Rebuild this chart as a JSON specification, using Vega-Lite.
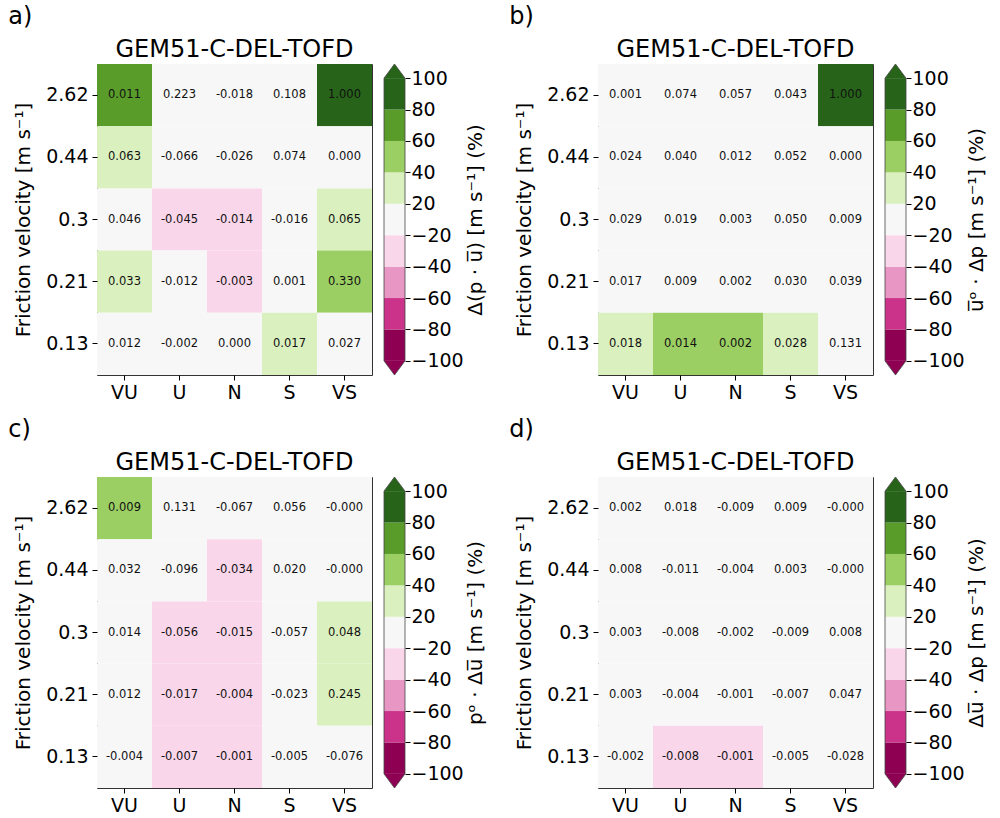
{
  "$schema": "https://vega.github.io/schema/vega-lite/v6.json",
  "padding": {"left": 8, "top": 4, "right": 5, "bottom": 5},
  "config": {
    "font": "DejaVu Sans",
    "view": {"stroke": "#333", "strokeWidth": 1},
    "axis": {"labelFontSize": 19, "titleFontSize": 20, "titleFontWeight": "normal", "labelColor": "#000", "titleColor": "#000", "tickColor": "#000", "tickSize": 5, "grid": false, "domain": false, "labelPadding": 4},
    "title": {"fontWeight": "normal", "color": "#000"}
  },
  "datasets": {
    "cells": [
      {"p":"a","u":"2.62","s":"VU","v":"0.011","pct":70},{"p":"a","u":"2.62","s":"U","v":"0.223","pct":0},{"p":"a","u":"2.62","s":"N","v":"-0.018","pct":0},{"p":"a","u":"2.62","s":"S","v":"0.108","pct":0},{"p":"a","u":"2.62","s":"VS","v":"1.000","pct":90},
      {"p":"a","u":"0.44","s":"VU","v":"0.063","pct":30},{"p":"a","u":"0.44","s":"U","v":"-0.066","pct":0},{"p":"a","u":"0.44","s":"N","v":"-0.026","pct":0},{"p":"a","u":"0.44","s":"S","v":"0.074","pct":0},{"p":"a","u":"0.44","s":"VS","v":"0.000","pct":0},
      {"p":"a","u":"0.3","s":"VU","v":"0.046","pct":0},{"p":"a","u":"0.3","s":"U","v":"-0.045","pct":-30},{"p":"a","u":"0.3","s":"N","v":"-0.014","pct":-30},{"p":"a","u":"0.3","s":"S","v":"-0.016","pct":0},{"p":"a","u":"0.3","s":"VS","v":"0.065","pct":30},
      {"p":"a","u":"0.21","s":"VU","v":"0.033","pct":30},{"p":"a","u":"0.21","s":"U","v":"-0.012","pct":0},{"p":"a","u":"0.21","s":"N","v":"-0.003","pct":-30},{"p":"a","u":"0.21","s":"S","v":"0.001","pct":0},{"p":"a","u":"0.21","s":"VS","v":"0.330","pct":50},
      {"p":"a","u":"0.13","s":"VU","v":"0.012","pct":0},{"p":"a","u":"0.13","s":"U","v":"-0.002","pct":0},{"p":"a","u":"0.13","s":"N","v":"0.000","pct":0},{"p":"a","u":"0.13","s":"S","v":"0.017","pct":30},{"p":"a","u":"0.13","s":"VS","v":"0.027","pct":0},

      {"p":"b","u":"2.62","s":"VU","v":"0.001","pct":0},{"p":"b","u":"2.62","s":"U","v":"0.074","pct":0},{"p":"b","u":"2.62","s":"N","v":"0.057","pct":0},{"p":"b","u":"2.62","s":"S","v":"0.043","pct":0},{"p":"b","u":"2.62","s":"VS","v":"1.000","pct":90},
      {"p":"b","u":"0.44","s":"VU","v":"0.024","pct":0},{"p":"b","u":"0.44","s":"U","v":"0.040","pct":0},{"p":"b","u":"0.44","s":"N","v":"0.012","pct":0},{"p":"b","u":"0.44","s":"S","v":"0.052","pct":0},{"p":"b","u":"0.44","s":"VS","v":"0.000","pct":0},
      {"p":"b","u":"0.3","s":"VU","v":"0.029","pct":0},{"p":"b","u":"0.3","s":"U","v":"0.019","pct":0},{"p":"b","u":"0.3","s":"N","v":"0.003","pct":0},{"p":"b","u":"0.3","s":"S","v":"0.050","pct":0},{"p":"b","u":"0.3","s":"VS","v":"0.009","pct":0},
      {"p":"b","u":"0.21","s":"VU","v":"0.017","pct":0},{"p":"b","u":"0.21","s":"U","v":"0.009","pct":0},{"p":"b","u":"0.21","s":"N","v":"0.002","pct":0},{"p":"b","u":"0.21","s":"S","v":"0.030","pct":0},{"p":"b","u":"0.21","s":"VS","v":"0.039","pct":0},
      {"p":"b","u":"0.13","s":"VU","v":"0.018","pct":30},{"p":"b","u":"0.13","s":"U","v":"0.014","pct":50},{"p":"b","u":"0.13","s":"N","v":"0.002","pct":50},{"p":"b","u":"0.13","s":"S","v":"0.028","pct":30},{"p":"b","u":"0.13","s":"VS","v":"0.131","pct":0},

      {"p":"c","u":"2.62","s":"VU","v":"0.009","pct":50},{"p":"c","u":"2.62","s":"U","v":"0.131","pct":0},{"p":"c","u":"2.62","s":"N","v":"-0.067","pct":0},{"p":"c","u":"2.62","s":"S","v":"0.056","pct":0},{"p":"c","u":"2.62","s":"VS","v":"-0.000","pct":0},
      {"p":"c","u":"0.44","s":"VU","v":"0.032","pct":0},{"p":"c","u":"0.44","s":"U","v":"-0.096","pct":0},{"p":"c","u":"0.44","s":"N","v":"-0.034","pct":-30},{"p":"c","u":"0.44","s":"S","v":"0.020","pct":0},{"p":"c","u":"0.44","s":"VS","v":"-0.000","pct":0},
      {"p":"c","u":"0.3","s":"VU","v":"0.014","pct":0},{"p":"c","u":"0.3","s":"U","v":"-0.056","pct":-30},{"p":"c","u":"0.3","s":"N","v":"-0.015","pct":-30},{"p":"c","u":"0.3","s":"S","v":"-0.057","pct":0},{"p":"c","u":"0.3","s":"VS","v":"0.048","pct":30},
      {"p":"c","u":"0.21","s":"VU","v":"0.012","pct":0},{"p":"c","u":"0.21","s":"U","v":"-0.017","pct":-30},{"p":"c","u":"0.21","s":"N","v":"-0.004","pct":-30},{"p":"c","u":"0.21","s":"S","v":"-0.023","pct":0},{"p":"c","u":"0.21","s":"VS","v":"0.245","pct":30},
      {"p":"c","u":"0.13","s":"VU","v":"-0.004","pct":0},{"p":"c","u":"0.13","s":"U","v":"-0.007","pct":-30},{"p":"c","u":"0.13","s":"N","v":"-0.001","pct":-30},{"p":"c","u":"0.13","s":"S","v":"-0.005","pct":0},{"p":"c","u":"0.13","s":"VS","v":"-0.076","pct":0},

      {"p":"d","u":"2.62","s":"VU","v":"0.002","pct":0},{"p":"d","u":"2.62","s":"U","v":"0.018","pct":0},{"p":"d","u":"2.62","s":"N","v":"-0.009","pct":0},{"p":"d","u":"2.62","s":"S","v":"0.009","pct":0},{"p":"d","u":"2.62","s":"VS","v":"-0.000","pct":0},
      {"p":"d","u":"0.44","s":"VU","v":"0.008","pct":0},{"p":"d","u":"0.44","s":"U","v":"-0.011","pct":0},{"p":"d","u":"0.44","s":"N","v":"-0.004","pct":0},{"p":"d","u":"0.44","s":"S","v":"0.003","pct":0},{"p":"d","u":"0.44","s":"VS","v":"-0.000","pct":0},
      {"p":"d","u":"0.3","s":"VU","v":"0.003","pct":0},{"p":"d","u":"0.3","s":"U","v":"-0.008","pct":0},{"p":"d","u":"0.3","s":"N","v":"-0.002","pct":0},{"p":"d","u":"0.3","s":"S","v":"-0.009","pct":0},{"p":"d","u":"0.3","s":"VS","v":"0.008","pct":0},
      {"p":"d","u":"0.21","s":"VU","v":"0.003","pct":0},{"p":"d","u":"0.21","s":"U","v":"-0.004","pct":0},{"p":"d","u":"0.21","s":"N","v":"-0.001","pct":0},{"p":"d","u":"0.21","s":"S","v":"-0.007","pct":0},{"p":"d","u":"0.21","s":"VS","v":"0.047","pct":0},
      {"p":"d","u":"0.13","s":"VU","v":"-0.002","pct":0},{"p":"d","u":"0.13","s":"U","v":"-0.008","pct":-30},{"p":"d","u":"0.13","s":"N","v":"-0.001","pct":-30},{"p":"d","u":"0.13","s":"S","v":"-0.005","pct":0},{"p":"d","u":"0.13","s":"VS","v":"-0.028","pct":0}
    ],
    "cbar": [
      {"lo":0,"hi":1,"mid":-90},{"lo":1,"hi":2,"mid":-70},{"lo":2,"hi":3,"mid":-50},{"lo":3,"hi":4,"mid":-30},{"lo":4,"hi":5,"mid":0},
      {"lo":5,"hi":6,"mid":30},{"lo":6,"hi":7,"mid":50},{"lo":7,"hi":8,"mid":70},{"lo":8,"hi":9,"mid":90}
    ],
    "tri": [
      {"tx":0,"ty":9,"ty2":9,"mid":110},{"tx":0.5,"ty":9.45,"ty2":9,"mid":110},{"tx":1,"ty":9,"ty2":9,"mid":110},
      {"tx":0,"ty":0,"ty2":0,"mid":-110},{"tx":0.5,"ty":-0.45,"ty2":0,"mid":-110},{"tx":1,"ty":0,"ty2":0,"mid":-110}
    ],
    "outline": [
      {"k":0,"ox":0,"oy":0},{"k":1,"ox":0,"oy":9},{"k":2,"ox":0.5,"oy":9.45},{"k":3,"ox":1,"oy":9},{"k":4,"ox":1,"oy":0},{"k":5,"ox":0.5,"oy":-0.45},{"k":6,"ox":0,"oy":0}
    ]
  },
  "spacing": 14,
  "vconcat": [
    {
      "spacing": 23,
      "hconcat": [
        {
          "title": {"text": "a)", "anchor": "start", "fontSize": 24, "offset": 9, "dx": -5},
          "spacing": 9,
          "hconcat": [
            {
              "width": 275, "height": 311,
              "title": {"text": "GEM51-C-DEL-TOFD", "fontSize": 24, "offset": 2},
              "data": {"name": "cells"},
              "transform": [{"filter": "datum.p == 'a'"}],
              "encoding": {
                "x": {"field": "s", "type": "nominal", "sort": ["VU","U","N","S","VS"], "scale": {"paddingInner": 0, "paddingOuter": 0}, "axis": {"title": null, "labelAngle": 0, "labelPadding": 3}},
                "y": {"field": "u", "type": "nominal", "sort": ["2.62","0.44","0.3","0.21","0.13"], "scale": {"paddingInner": 0, "paddingOuter": 0}, "axis": {"title": "Friction velocity [m s⁻¹]", "titlePadding": 12}}
              },
              "layer": [
                {"mark": {"type": "rect"}, "encoding": {"color": {"field": "pct", "type": "quantitative", "scale": {"type": "threshold", "domain": [-80,-60,-40,-20,20,40,60,80], "range": ["#8e0152","#cb3289","#e897c4","#fad6ea","#f7f7f7","#daf0be","#9bce63","#599c29","#276419"]}, "legend": null}}},
                {"mark": {"type": "text", "fontSize": 11.5, "color": "#111"}, "encoding": {"text": {"field": "v"}}}
              ]
            },
            {
              "width": 21, "height": 311,
              "view": {"stroke": null},
              "layer": [
                {"data": {"name": "cbar"}, "mark": "rect", "encoding": {
                  "x": {"datum": 0, "type": "quantitative", "scale": {"domain": [0,1]}, "axis": null},
                  "x2": {"datum": 1},
                  "y": {"field": "lo", "type": "quantitative", "scale": {"domain": [-0.45, 9.45], "nice": false, "zero": false}, "axis": {"orient": "right", "values": [0,1,2,3,4,5,6,7,8,9], "labelOverlap": false, "labelExpr": "['−100','−80','−60','−40','−20','20','40','60','80','100'][datum.value]", "title": "Δ(p · u̅) [m s⁻¹] (%)", "titleAngle": 270, "titleBaseline": "top", "labelPadding": 1, "titlePadding": 2}},
                  "y2": {"field": "hi"},
                  "color": {"field": "mid", "type": "quantitative", "scale": {"type": "threshold", "domain": [-80,-60,-40,-20,20,40,60,80], "range": ["#8e0152","#cb3289","#e897c4","#fad6ea","#f7f7f7","#daf0be","#9bce63","#599c29","#276419"]}, "legend": null}
                }},
                {"data": {"name": "tri"}, "mark": "area", "encoding": {
                  "x": {"field": "tx", "type": "quantitative", "axis": null},
                  "y": {"field": "ty", "type": "quantitative", "axis": {"orient": "right", "values": [0,1,2,3,4,5,6,7,8,9], "labelOverlap": false, "labelExpr": "['−100','−80','−60','−40','−20','20','40','60','80','100'][datum.value]", "title": "Δ(p · u̅) [m s⁻¹] (%)", "titleAngle": 270, "titleBaseline": "top", "labelPadding": 1, "titlePadding": 2}},
                  "y2": {"field": "ty2"},
                  "color": {"field": "mid", "type": "quantitative", "scale": {"type": "threshold", "domain": [-80,-60,-40,-20,20,40,60,80], "range": ["#8e0152","#cb3289","#e897c4","#fad6ea","#f7f7f7","#daf0be","#9bce63","#599c29","#276419"]}, "legend": null}
                }},
                {"data": {"name": "outline"}, "mark": {"type": "line", "stroke": "#444", "strokeWidth": 0.8}, "encoding": {
                  "x": {"field": "ox", "type": "quantitative", "axis": null},
                  "y": {"field": "oy", "type": "quantitative", "axis": {"orient": "right", "values": [0,1,2,3,4,5,6,7,8,9], "labelOverlap": false, "labelExpr": "['−100','−80','−60','−40','−20','20','40','60','80','100'][datum.value]", "title": "Δ(p · u̅) [m s⁻¹] (%)", "titleAngle": 270, "titleBaseline": "top", "labelPadding": 1, "titlePadding": 2}},
                  "order": {"field": "k"}
                }}
              ]
            }
          ]
        },
        {
          "title": {"text": "b)", "anchor": "start", "fontSize": 24, "offset": 9, "dx": -5},
          "spacing": 9,
          "hconcat": [
            {
              "width": 275, "height": 311,
              "title": {"text": "GEM51-C-DEL-TOFD", "fontSize": 24, "offset": 2},
              "data": {"name": "cells"},
              "transform": [{"filter": "datum.p == 'b'"}],
              "encoding": {
                "x": {"field": "s", "type": "nominal", "sort": ["VU","U","N","S","VS"], "scale": {"paddingInner": 0, "paddingOuter": 0}, "axis": {"title": null, "labelAngle": 0, "labelPadding": 3}},
                "y": {"field": "u", "type": "nominal", "sort": ["2.62","0.44","0.3","0.21","0.13"], "scale": {"paddingInner": 0, "paddingOuter": 0}, "axis": {"title": "Friction velocity [m s⁻¹]", "titlePadding": 12}}
              },
              "layer": [
                {"mark": {"type": "rect"}, "encoding": {"color": {"field": "pct", "type": "quantitative", "scale": {"type": "threshold", "domain": [-80,-60,-40,-20,20,40,60,80], "range": ["#8e0152","#cb3289","#e897c4","#fad6ea","#f7f7f7","#daf0be","#9bce63","#599c29","#276419"]}, "legend": null}}},
                {"mark": {"type": "text", "fontSize": 11.5, "color": "#111"}, "encoding": {"text": {"field": "v"}}}
              ]
            },
            {
              "width": 21, "height": 311,
              "view": {"stroke": null},
              "layer": [
                {"data": {"name": "cbar"}, "mark": "rect", "encoding": {
                  "x": {"datum": 0, "type": "quantitative", "scale": {"domain": [0,1]}, "axis": null},
                  "x2": {"datum": 1},
                  "y": {"field": "lo", "type": "quantitative", "scale": {"domain": [-0.45, 9.45], "nice": false, "zero": false}, "axis": {"orient": "right", "values": [0,1,2,3,4,5,6,7,8,9], "labelOverlap": false, "labelExpr": "['−100','−80','−60','−40','−20','20','40','60','80','100'][datum.value]", "title": "u̅ᵒ · Δp [m s⁻¹] (%)", "titleAngle": 270, "titleBaseline": "top", "labelPadding": 1, "titlePadding": 2}},
                  "y2": {"field": "hi"},
                  "color": {"field": "mid", "type": "quantitative", "scale": {"type": "threshold", "domain": [-80,-60,-40,-20,20,40,60,80], "range": ["#8e0152","#cb3289","#e897c4","#fad6ea","#f7f7f7","#daf0be","#9bce63","#599c29","#276419"]}, "legend": null}
                }},
                {"data": {"name": "tri"}, "mark": "area", "encoding": {
                  "x": {"field": "tx", "type": "quantitative", "axis": null},
                  "y": {"field": "ty", "type": "quantitative", "axis": {"orient": "right", "values": [0,1,2,3,4,5,6,7,8,9], "labelOverlap": false, "labelExpr": "['−100','−80','−60','−40','−20','20','40','60','80','100'][datum.value]", "title": "u̅ᵒ · Δp [m s⁻¹] (%)", "titleAngle": 270, "titleBaseline": "top", "labelPadding": 1, "titlePadding": 2}},
                  "y2": {"field": "ty2"},
                  "color": {"field": "mid", "type": "quantitative", "scale": {"type": "threshold", "domain": [-80,-60,-40,-20,20,40,60,80], "range": ["#8e0152","#cb3289","#e897c4","#fad6ea","#f7f7f7","#daf0be","#9bce63","#599c29","#276419"]}, "legend": null}
                }},
                {"data": {"name": "outline"}, "mark": {"type": "line", "stroke": "#444", "strokeWidth": 0.8}, "encoding": {
                  "x": {"field": "ox", "type": "quantitative", "axis": null},
                  "y": {"field": "oy", "type": "quantitative", "axis": {"orient": "right", "values": [0,1,2,3,4,5,6,7,8,9], "labelOverlap": false, "labelExpr": "['−100','−80','−60','−40','−20','20','40','60','80','100'][datum.value]", "title": "u̅ᵒ · Δp [m s⁻¹] (%)", "titleAngle": 270, "titleBaseline": "top", "labelPadding": 1, "titlePadding": 2}},
                  "order": {"field": "k"}
                }}
              ]
            }
          ]
        }
      ]
    },
    {
      "spacing": 23,
      "hconcat": [
        {
          "title": {"text": "c)", "anchor": "start", "fontSize": 24, "offset": 9, "dx": -5},
          "spacing": 9,
          "hconcat": [
            {
              "width": 275, "height": 311,
              "title": {"text": "GEM51-C-DEL-TOFD", "fontSize": 24, "offset": 2},
              "data": {"name": "cells"},
              "transform": [{"filter": "datum.p == 'c'"}],
              "encoding": {
                "x": {"field": "s", "type": "nominal", "sort": ["VU","U","N","S","VS"], "scale": {"paddingInner": 0, "paddingOuter": 0}, "axis": {"title": null, "labelAngle": 0, "labelPadding": 3}},
                "y": {"field": "u", "type": "nominal", "sort": ["2.62","0.44","0.3","0.21","0.13"], "scale": {"paddingInner": 0, "paddingOuter": 0}, "axis": {"title": "Friction velocity [m s⁻¹]", "titlePadding": 12}}
              },
              "layer": [
                {"mark": {"type": "rect"}, "encoding": {"color": {"field": "pct", "type": "quantitative", "scale": {"type": "threshold", "domain": [-80,-60,-40,-20,20,40,60,80], "range": ["#8e0152","#cb3289","#e897c4","#fad6ea","#f7f7f7","#daf0be","#9bce63","#599c29","#276419"]}, "legend": null}}},
                {"mark": {"type": "text", "fontSize": 11.5, "color": "#111"}, "encoding": {"text": {"field": "v"}}}
              ]
            },
            {
              "width": 21, "height": 311,
              "view": {"stroke": null},
              "layer": [
                {"data": {"name": "cbar"}, "mark": "rect", "encoding": {
                  "x": {"datum": 0, "type": "quantitative", "scale": {"domain": [0,1]}, "axis": null},
                  "x2": {"datum": 1},
                  "y": {"field": "lo", "type": "quantitative", "scale": {"domain": [-0.45, 9.45], "nice": false, "zero": false}, "axis": {"orient": "right", "values": [0,1,2,3,4,5,6,7,8,9], "labelOverlap": false, "labelExpr": "['−100','−80','−60','−40','−20','20','40','60','80','100'][datum.value]", "title": "pᵒ · Δu̅ [m s⁻¹] (%)", "titleAngle": 270, "titleBaseline": "top", "labelPadding": 1, "titlePadding": 2}},
                  "y2": {"field": "hi"},
                  "color": {"field": "mid", "type": "quantitative", "scale": {"type": "threshold", "domain": [-80,-60,-40,-20,20,40,60,80], "range": ["#8e0152","#cb3289","#e897c4","#fad6ea","#f7f7f7","#daf0be","#9bce63","#599c29","#276419"]}, "legend": null}
                }},
                {"data": {"name": "tri"}, "mark": "area", "encoding": {
                  "x": {"field": "tx", "type": "quantitative", "axis": null},
                  "y": {"field": "ty", "type": "quantitative", "axis": {"orient": "right", "values": [0,1,2,3,4,5,6,7,8,9], "labelOverlap": false, "labelExpr": "['−100','−80','−60','−40','−20','20','40','60','80','100'][datum.value]", "title": "pᵒ · Δu̅ [m s⁻¹] (%)", "titleAngle": 270, "titleBaseline": "top", "labelPadding": 1, "titlePadding": 2}},
                  "y2": {"field": "ty2"},
                  "color": {"field": "mid", "type": "quantitative", "scale": {"type": "threshold", "domain": [-80,-60,-40,-20,20,40,60,80], "range": ["#8e0152","#cb3289","#e897c4","#fad6ea","#f7f7f7","#daf0be","#9bce63","#599c29","#276419"]}, "legend": null}
                }},
                {"data": {"name": "outline"}, "mark": {"type": "line", "stroke": "#444", "strokeWidth": 0.8}, "encoding": {
                  "x": {"field": "ox", "type": "quantitative", "axis": null},
                  "y": {"field": "oy", "type": "quantitative", "axis": {"orient": "right", "values": [0,1,2,3,4,5,6,7,8,9], "labelOverlap": false, "labelExpr": "['−100','−80','−60','−40','−20','20','40','60','80','100'][datum.value]", "title": "pᵒ · Δu̅ [m s⁻¹] (%)", "titleAngle": 270, "titleBaseline": "top", "labelPadding": 1, "titlePadding": 2}},
                  "order": {"field": "k"}
                }}
              ]
            }
          ]
        },
        {
          "title": {"text": "d)", "anchor": "start", "fontSize": 24, "offset": 9, "dx": -5},
          "spacing": 9,
          "hconcat": [
            {
              "width": 275, "height": 311,
              "title": {"text": "GEM51-C-DEL-TOFD", "fontSize": 24, "offset": 2},
              "data": {"name": "cells"},
              "transform": [{"filter": "datum.p == 'd'"}],
              "encoding": {
                "x": {"field": "s", "type": "nominal", "sort": ["VU","U","N","S","VS"], "scale": {"paddingInner": 0, "paddingOuter": 0}, "axis": {"title": null, "labelAngle": 0, "labelPadding": 3}},
                "y": {"field": "u", "type": "nominal", "sort": ["2.62","0.44","0.3","0.21","0.13"], "scale": {"paddingInner": 0, "paddingOuter": 0}, "axis": {"title": "Friction velocity [m s⁻¹]", "titlePadding": 12}}
              },
              "layer": [
                {"mark": {"type": "rect"}, "encoding": {"color": {"field": "pct", "type": "quantitative", "scale": {"type": "threshold", "domain": [-80,-60,-40,-20,20,40,60,80], "range": ["#8e0152","#cb3289","#e897c4","#fad6ea","#f7f7f7","#daf0be","#9bce63","#599c29","#276419"]}, "legend": null}}},
                {"mark": {"type": "text", "fontSize": 11.5, "color": "#111"}, "encoding": {"text": {"field": "v"}}}
              ]
            },
            {
              "width": 21, "height": 311,
              "view": {"stroke": null},
              "layer": [
                {"data": {"name": "cbar"}, "mark": "rect", "encoding": {
                  "x": {"datum": 0, "type": "quantitative", "scale": {"domain": [0,1]}, "axis": null},
                  "x2": {"datum": 1},
                  "y": {"field": "lo", "type": "quantitative", "scale": {"domain": [-0.45, 9.45], "nice": false, "zero": false}, "axis": {"orient": "right", "values": [0,1,2,3,4,5,6,7,8,9], "labelOverlap": false, "labelExpr": "['−100','−80','−60','−40','−20','20','40','60','80','100'][datum.value]", "title": "Δu̅ · Δp [m s⁻¹] (%)", "titleAngle": 270, "titleBaseline": "top", "labelPadding": 1, "titlePadding": 2}},
                  "y2": {"field": "hi"},
                  "color": {"field": "mid", "type": "quantitative", "scale": {"type": "threshold", "domain": [-80,-60,-40,-20,20,40,60,80], "range": ["#8e0152","#cb3289","#e897c4","#fad6ea","#f7f7f7","#daf0be","#9bce63","#599c29","#276419"]}, "legend": null}
                }},
                {"data": {"name": "tri"}, "mark": "area", "encoding": {
                  "x": {"field": "tx", "type": "quantitative", "axis": null},
                  "y": {"field": "ty", "type": "quantitative", "axis": {"orient": "right", "values": [0,1,2,3,4,5,6,7,8,9], "labelOverlap": false, "labelExpr": "['−100','−80','−60','−40','−20','20','40','60','80','100'][datum.value]", "title": "Δu̅ · Δp [m s⁻¹] (%)", "titleAngle": 270, "titleBaseline": "top", "labelPadding": 1, "titlePadding": 2}},
                  "y2": {"field": "ty2"},
                  "color": {"field": "mid", "type": "quantitative", "scale": {"type": "threshold", "domain": [-80,-60,-40,-20,20,40,60,80], "range": ["#8e0152","#cb3289","#e897c4","#fad6ea","#f7f7f7","#daf0be","#9bce63","#599c29","#276419"]}, "legend": null}
                }},
                {"data": {"name": "outline"}, "mark": {"type": "line", "stroke": "#444", "strokeWidth": 0.8}, "encoding": {
                  "x": {"field": "ox", "type": "quantitative", "axis": null},
                  "y": {"field": "oy", "type": "quantitative", "axis": {"orient": "right", "values": [0,1,2,3,4,5,6,7,8,9], "labelOverlap": false, "labelExpr": "['−100','−80','−60','−40','−20','20','40','60','80','100'][datum.value]", "title": "Δu̅ · Δp [m s⁻¹] (%)", "titleAngle": 270, "titleBaseline": "top", "labelPadding": 1, "titlePadding": 2}},
                  "order": {"field": "k"}
                }}
              ]
            }
          ]
        }
      ]
    }
  ]
}
